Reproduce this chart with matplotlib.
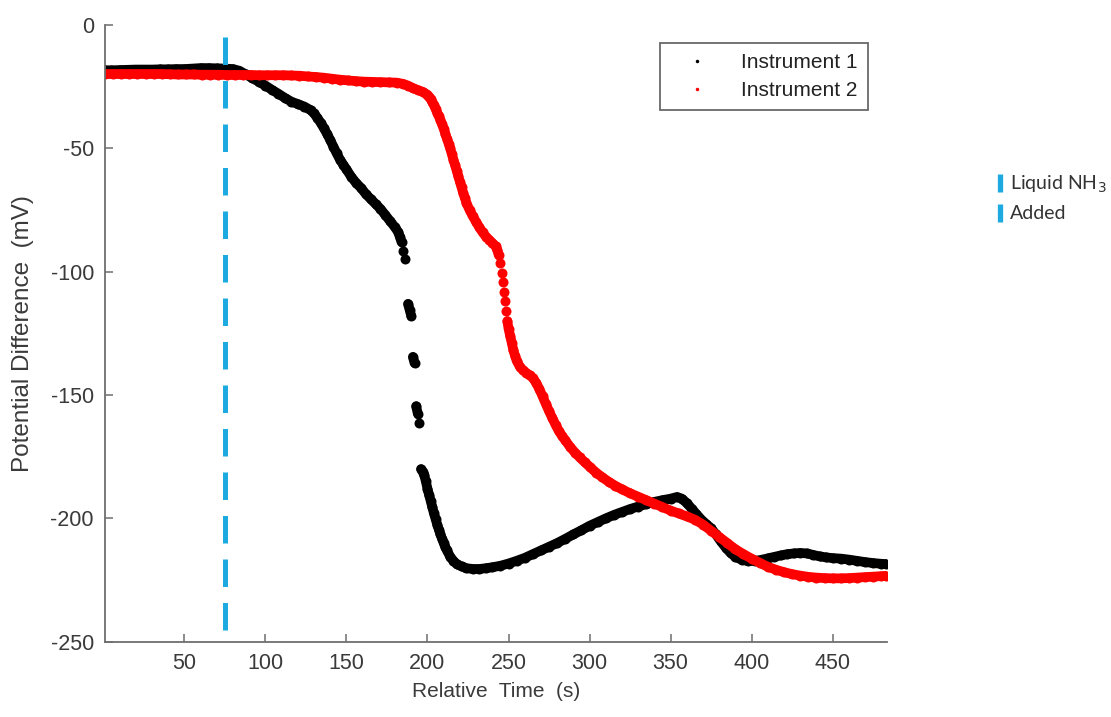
import numpy as np
import matplotlib
matplotlib.use('Agg')
import matplotlib.pyplot as plt
from matplotlib.lines import Line2D

plt.rcParams['font.family'] = ['Liberation Sans', 'DejaVu Sans']
plt.rcParams['axes.unicode_minus'] = False

# ---- data ----
# Instrument 1 (black)
t1 = [1, 5, 10, 15, 20, 25, 30, 35, 40, 45, 50, 55, 60, 65, 70, 75, 80,
      84, 88, 92, 96, 100, 104, 108, 112, 116, 120, 124, 128, 130, 132, 134,
      136, 138, 140, 142, 144, 146, 148, 150, 153, 156, 159, 162, 165, 168,
      171, 174, 177, 180, 182, 183, 184, 185, 186, 188, 189, 190, 191, 192,
      193, 194, 195, 196, 197, 198, 199, 200, 201, 202, 203, 204, 205, 206,
      207, 208, 209, 210, 211, 212, 214, 216, 218, 221, 224, 228, 232, 236,
      240, 245, 250, 255, 260, 265, 270, 275, 280, 285, 290, 295, 300, 305,
      310, 315, 320, 325, 330, 335, 340, 345, 350, 354, 357, 360, 363, 366,
      369, 372, 375, 378, 381, 384, 387, 390, 394, 398, 402, 406, 410, 414,
      418, 422, 426, 430, 434, 438, 442, 446, 450, 455, 460, 465, 470, 475,
      480, 483]
v1 = [-18.3, -18.3, -18.2, -18.1, -18.0, -18.0, -18.0, -17.9, -17.9, -17.8,
      -17.8, -17.6, -17.4, -17.4, -17.5, -17.6, -17.8,
      -18.5, -20.0, -21.5, -23.0, -24.5, -26.2, -27.8, -29.5, -31.0, -32.0,
      -33.0, -34.5, -35.8, -37.5, -39.5, -41.7, -44.0, -46.6, -49.3, -52.0,
      -54.5, -56.5, -58.5, -61.5, -64.0, -66.0, -68.5, -70.5, -72.5, -74.5,
      -77.0, -79.5, -82.0, -84.0, -86.0, -88.0, -91.5, -95.0, -113.0, -115.5,
      -118.0, -134.5, -137.0, -154.5, -157.5, -161.5, -180.0, -181.0, -182.5,
      -185.0, -188.0, -190.5, -193.0, -195.5, -198.0, -200.3, -202.5, -204.5,
      -206.5, -208.3, -210.0, -211.6, -213.0, -215.5, -217.2, -218.5, -219.5,
      -220.2, -220.5, -220.5, -220.2, -219.8, -219.2, -218.3, -217.2, -216.0,
      -214.5, -213.0, -211.5, -210.0, -208.3, -206.5, -204.8, -203.0, -201.5,
      -200.0, -198.6, -197.4, -196.2, -195.2, -194.2, -193.3, -192.6, -192.0,
      -191.3, -192.0, -193.8, -196.0, -198.3, -200.5, -202.3, -204.0, -206.5,
      -209.3, -211.8, -214.0, -215.6, -216.8, -217.3, -217.2, -216.8, -216.2,
      -215.6, -215.0, -214.5, -214.2, -214.0, -214.2, -214.8, -215.4, -215.8,
      -216.1, -216.3, -216.7, -217.2, -217.7, -218.1, -218.4, -218.5]

# Instrument 2 (red)
t2 = [1, 6, 11, 16, 21, 26, 31, 36, 41, 46, 51, 56, 61, 66, 71, 76, 81, 86,
      91, 96, 101, 106, 111, 116, 121, 126, 131, 136, 141, 146, 151, 156,
      161, 166, 171, 176, 181, 185, 188, 191, 194, 197, 200, 201, 202, 203,
      204, 205, 206, 207, 208, 209, 210, 211, 212, 213, 214, 215, 216, 217,
      218, 219, 220, 221, 222, 223, 224, 226, 228, 230, 232, 234, 236, 238,
      240, 242, 243, 244, 245, 245.7, 246.4, 247.1, 247.8, 248.5, 249.3, 250,
      251, 252, 253, 254, 255, 257, 259, 261, 263, 265, 267, 269, 271, 273,
      275, 277, 279, 281, 283, 285, 288, 291, 294, 297, 300, 304, 308, 312,
      316, 320, 325, 330, 335, 340, 345, 350, 355, 360, 365, 370, 375, 380,
      385, 390, 395, 400, 405, 410, 415, 420, 425, 430, 435, 440, 445, 450,
      455, 460, 465, 470, 475, 480, 483]
v2 = [-19.8, -19.8, -19.8, -19.8, -19.8, -19.8, -19.8, -19.8, -19.9, -20.0,
      -20.0, -20.0, -20.1, -20.1, -20.1, -20.2, -20.2, -20.2, -20.2, -20.3,
      -20.3, -20.3, -20.3, -20.4, -20.5, -20.8, -21.0, -21.3, -21.7, -22.1,
      -22.4, -22.7, -22.9, -23.0, -23.1, -23.2, -23.3, -23.8, -24.5, -25.5,
      -26.3, -27.0, -28.2, -29.0, -30.0, -31.2, -32.5, -34.0, -35.5, -37.0,
      -38.5, -40.2, -42.0, -44.0, -46.0, -48.0, -50.0, -52.2, -54.5, -56.8,
      -59.0, -61.2, -63.5, -65.8, -68.0, -70.0, -72.0, -75.0, -77.5, -79.8,
      -82.0, -84.0, -85.7, -87.0, -88.3, -89.6, -91.0, -93.3, -96.5, -100.3,
      -104.2, -108.0, -112.0, -116.0, -120.0, -123.0, -126.0, -129.0, -131.8,
      -134.0, -136.0, -138.5, -140.0, -141.0, -142.0, -143.0, -145.0, -147.5,
      -150.5, -153.5, -156.5, -159.3, -162.0, -164.5, -166.5, -168.3, -171.0,
      -173.3, -175.3, -177.2, -179.0, -181.4, -183.4, -185.2, -186.8, -188.2,
      -189.8, -191.2, -192.6, -194.0, -195.4, -196.8, -198.0, -199.2, -200.5,
      -202.5, -205.0, -207.5, -210.0, -212.5, -214.5, -216.3, -218.0, -219.6,
      -220.8, -221.8, -222.6, -223.2, -223.7, -224.0, -224.2, -224.3, -224.3,
      -224.2, -224.0, -223.8, -223.6, -223.4, -223.3]

nh3_time = 75  # s, when liquid NH3 was added
xticks = [50, 100, 150, 200, 250, 300, 350, 400, 450]
yticks = [-250, -200, -150, -100, -50, 0]

blue = '#1CAAE0'
grey = '#6e6e6e'
txt = '#3a3a3a'


def with_breaks(t, v, max_step=3.05):
    # samples that jump more than max_step mV stay as separate dots
    t = np.asarray(t, float)
    v = np.asarray(v, float)
    out_t, out_v = [t[0]], [v[0]]
    for i in range(1, len(t)):
        if abs(v[i] - v[i - 1]) > max_step:
            out_t.append(np.nan)
            out_v.append(np.nan)
        out_t.append(t[i])
        out_v.append(v[i])
    return out_t, out_v


fig = plt.figure(figsize=(11.11, 7.17), dpi=100)
ax = fig.add_axes([0.0945, 0.105, 0.7035, 0.8599])

for t, v, c, lab in [(t1, v1, 'black', 'Instrument 1'),
                     (t2, v2, '#FF0000', 'Instrument 2')]:
    bt, bv = with_breaks(t, v)
    ax.plot(bt, bv, '-', color=c, lw=7.0, solid_capstyle='round',
            solid_joinstyle='round')
    ax.plot(t, v, 'o', color=c, ms=7.2, mew=0, label=lab)

ax.plot([nh3_time, nh3_time], [-5, -250], color=blue, lw=3.6,
        dashes=(5.5, 3.2), clip_on=False)

ax.set_xlim(1, 483.3)
ax.set_ylim(-250, 0)
ax.set_xticks(xticks)
ax.set_yticks(yticks)

for s in ['top', 'right']:
    ax.spines[s].set_visible(False)
for s in ['left', 'bottom']:
    ax.spines[s].set_color(grey)
    ax.spines[s].set_linewidth(1.3)
ax.tick_params(direction='in', length=6, width=1.1, color=grey,
               labelcolor=txt, labelsize=15.5, pad=8)

ax.set_xlabel('Relative  Time  (s)', fontsize=15, color=txt, labelpad=6)
ax.set_ylabel('Potential Difference  (mV)', fontsize=17.5, color=txt,
              labelpad=12)

leg = ax.legend(loc='upper right', bbox_to_anchor=(0.976, 0.971),
                borderaxespad=0, fontsize=15, markerscale=0.35,
                frameon=True, fancybox=False, handlelength=2.6,
                handletextpad=0.8, labelspacing=0.4, borderpad=0.5)
leg.get_frame().set_edgecolor('#444444')
leg.get_frame().set_linewidth(1.3)
for t in leg.get_texts():
    t.set_color('#222222')

# side key for the dashed line
bar = Line2D([], [], ls='none', marker='|', ms=13, mew=3.8, color=blue)
side = fig.legend([bar, bar], ['Liquid NH$_3$', 'Added'], loc='center left',
                  bbox_to_anchor=(0.881, 0.724), frameon=False,
                  handlelength=0.4, handletextpad=0.3, labelspacing=0.55,
                  prop={'family': 'Lato', 'size': 14})
for t in side.get_texts():
    t.set_color('#333333')

fig.savefig('out.png', dpi=100)
